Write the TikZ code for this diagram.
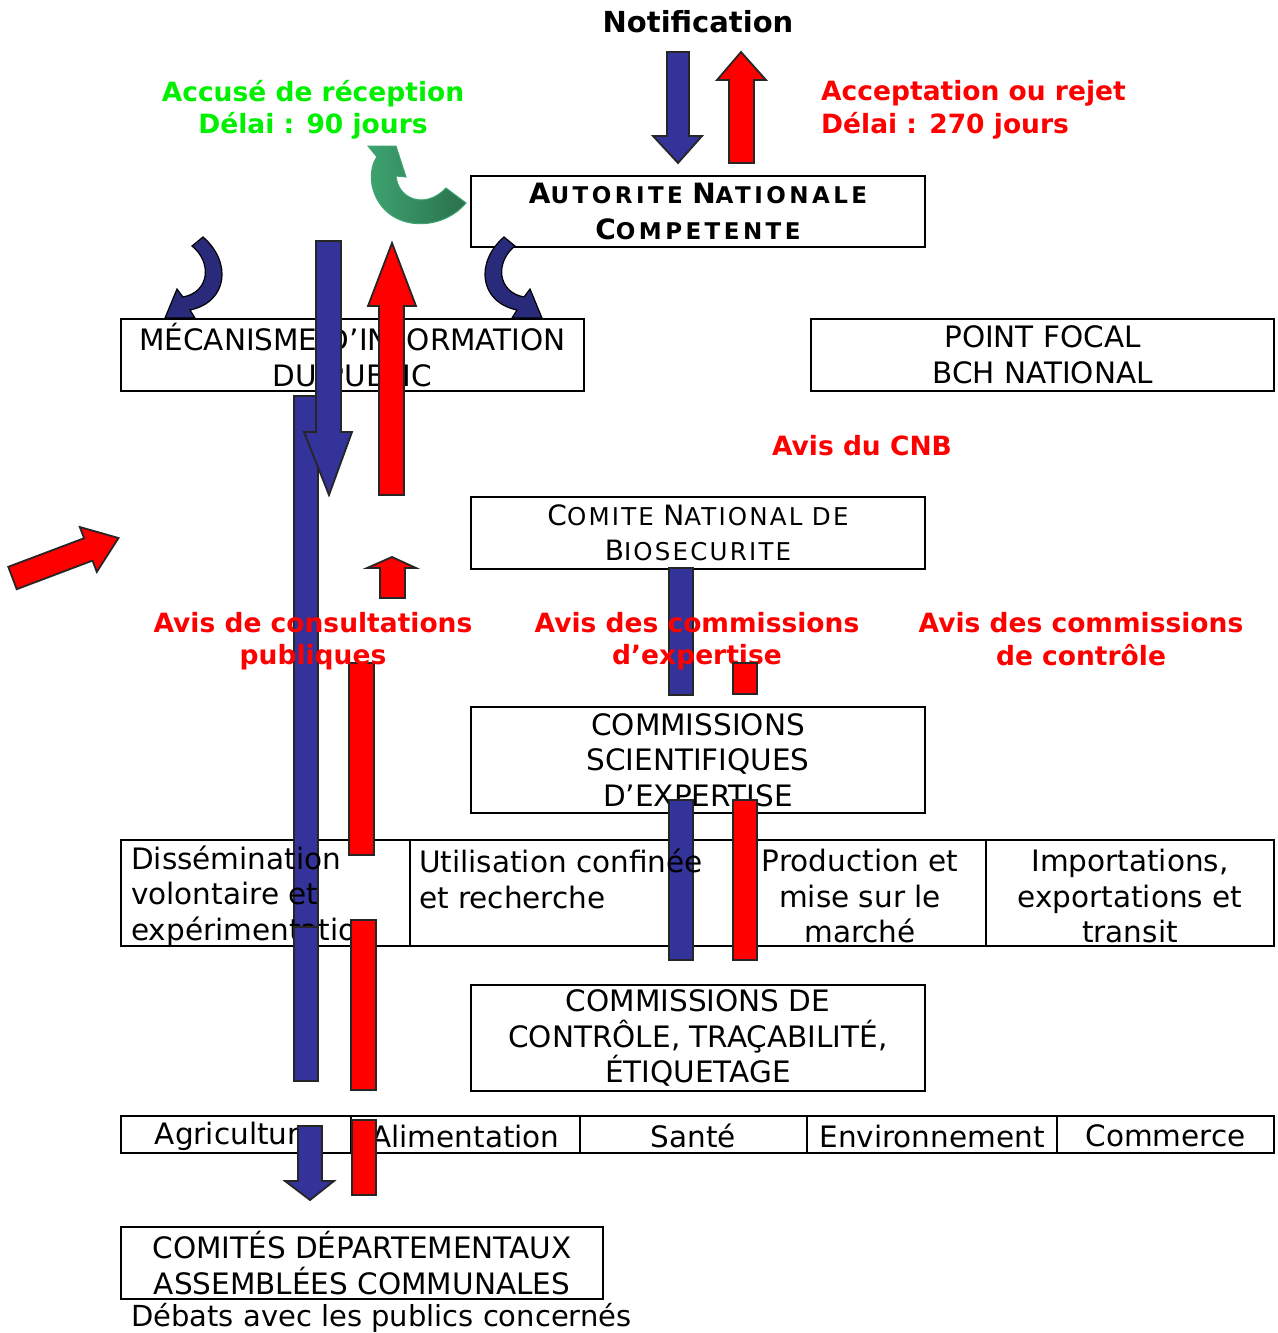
\documentclass[tikz,border=0pt]{standalone}
\usepackage{fontspec}
\setmainfont{DejaVu Sans}
\definecolor{barblue}{RGB}{51,51,153}
\definecolor{navyc}{RGB}{42,42,122}
\definecolor{brightgreen}{RGB}{0,240,0}
\definecolor{greenL}{RGB}{62,164,112}
\definecolor{greenD}{RGB}{42,112,76}
\definecolor{pureRed}{RGB}{255,0,0}
\newcommand\fsN{\fontsize{29.5}{35.5}\selectfont}
\newcommand\fsB{\fontsize{26.5}{32.5}\selectfont\bfseries}
\newcommand\scR[1]{{\fontsize{24.5}{35.5}\selectfont\addfontfeature{LetterSpace=9}#1}}
\newcommand\bigR[1]{{\fontsize{28}{35.5}\selectfont\addfontfeature{LetterSpace=9}#1}}
\newcommand\scB[1]{{\fontsize{23}{35.5}\selectfont\bfseries\addfontfeature{LetterSpace=15}#1}}
\newcommand\bigB[1]{{\fontsize{28}{35.5}\selectfont\bfseries\addfontfeature{LetterSpace=15}#1}}
\begin{document}
\begin{tikzpicture}[x=1pt,y=-1pt,
  box/.style={draw=black, line width=2.4pt, inner sep=0pt, align=center, font=\fsN},
  txt/.style={inner sep=0pt, font=\fsN},
  lbl/.style={inner sep=0pt, align=center, font=\fsB, text=pureRed},
  bar/.style={draw=black!85, line width=1.8pt},
  bluebar/.style={bar, fill=barblue},
  redbar/.style={bar, fill=pureRed},
  edge/.style={line width=2.4pt}]
\useasboundingbox (0,0) rectangle (1277,1333);
\fill[white] (0,0) rectangle (1277,1333);

% ---------- boxes ----------
\node[box, minimum width=454pt, minimum height=71pt] (anc) at (698,211.5)
  {\bigB{A}\scB{UTORITE} \bigB{N}\scB{ATIONALE}\\\bigB{C}\scB{OMPETENTE}};
\node[box, minimum width=463pt, minimum height=72pt] (mip) at (352.5,355)
  {MÉCANISME D’INFORMATION\\DU PUBLIC};
\node[box, minimum width=463pt, minimum height=72pt] (pf) at (1042.5,355)
  {POINT FOCAL\\BCH NATIONAL};
\node[box, minimum width=454pt, minimum height=72pt] (cnb) at (698,533)
  {\bigR{C}\scR{OMITE} \bigR{N}\scR{ATIONAL} \scR{DE}\\\bigR{B}\scR{IOSECURITE}};
\node[box, minimum width=454pt, minimum height=106pt] (cse) at (698,760)
  {COMMISSIONS\\SCIENTIFIQUES\\D’EXPERTISE};
\node[box, minimum width=454pt, minimum height=106pt] (cct) at (698,1038)
  {COMMISSIONS DE\\CONTRÔLE, TRAÇABILITÉ,\\ÉTIQUETAGE};
\node[box, minimum width=482pt, minimum height=72pt] (cdac) at (362,1263)
  {COMITÉS DÉPARTEMENTAUX\\ASSEMBLÉES COMMUNALES};
\node[txt, anchor=west, font=\fontsize{29}{35}\selectfont] (deb) at (131,1318) {Débats avec les publics concernés};

% domain row
\draw[edge] (121,840) rectangle (1274,946);
\draw[edge] (410,840) -- (410,946);
\draw[edge] (745,840) -- (745,946);
\draw[edge] (986,840) -- (986,946);

% sector row
\draw[edge] (121,1116) rectangle (1274,1153);
\foreach \xx in {351,580,807,1057} \draw[edge] (\xx,1116) -- (\xx,1153);
\node[txt] (agri) at (236,1136) {Agriculture};
\node[txt] (alim) at (465.5,1136) {Alimentation};
\node[txt] (sante) at (693.5,1136) {Santé};
\node[txt] (env) at (932,1136) {Environnement};
\node[txt] (comm) at (1165.5,1136) {Commerce};

% ---------- curved arrows ----------
\shade[left color=greenL, right color=greenD, draw=greenL, line width=1pt]
  (368,146) -- (396,146) -- (406,177) -- (396,176)
  .. controls (398,199) and (425,210) .. (446,188) -- (466,203)
  .. controls (440,234) and (382,232) .. (372,185)
  .. controls (370,172) and (373,162) .. (377,157) -- cycle;

\fill[navyc, draw=black, line width=1.2pt]
  (203,237) .. controls (232,262) and (228,302) .. (190,310)
  -- (195,318) -- (165,318) -- (177,289) -- (183,297)
  .. controls (210,292) and (212,262) .. (192,246) -- cycle;
\begin{scope}[xshift=707pt, xscale=-1]
\fill[navyc, draw=black, line width=1.2pt]
  (203,237) .. controls (232,262) and (228,302) .. (190,310)
  -- (195,318) -- (165,318) -- (177,289) -- (183,297)
  .. controls (210,292) and (212,262) .. (192,246) -- cycle;
\end{scope}

% ---------- block arrows ----------
\fill[bluebar] (667,52) -- (689,52) -- (689,136) -- (702,136) -- (678,163) -- (653,136) -- (667,136) -- cycle;
\fill[redbar] (729,163) -- (754,163) -- (754,80) -- (766,80) -- (741,52) -- (717,80) -- (729,80) -- cycle;

\fill[bluebar] (294,396) rectangle (318,970);
\fill[bluebar] (316,241) -- (341,241) -- (341,432) -- (352,432) -- (329,495) -- (304,432) -- (316,432) -- cycle;
\fill[redbar] (379,495) -- (404,495) -- (404,306) -- (416,306) -- (392,243) -- (368,306) -- (379,306) -- cycle;
\fill[redbar] (380,598) -- (405,598) -- (405,568) -- (416,568) -- (392,557) -- (367,568) -- (380,568) -- cycle;
\fill[redbar] (8.3,566.8) -- (84.1,538.2) -- (79.8,527.0) -- (118.5,538) -- (96.8,571.9) -- (92.5,560.6) -- (16.7,589.2) -- cycle;

\fill[bluebar] (669,568) rectangle (693,695);
\fill[bluebar] (669,800) rectangle (693,960);
\fill[redbar] (733,800) rectangle (757,960);
\fill[redbar] (349,663) rectangle (374,855);

% ---------- domain texts ----------
\node[txt, align=left, anchor=west] (diss) at (131,896) {Dissémination\\volontaire et\\expérimentation};
\node[txt, align=left, anchor=west] (util) at (419,879) {Utilisation confinée\\et recherche};
\node[txt, align=center] (prod) at (860,896) {Production et\\mise sur le\\marché};
\node[txt, align=center] (impo) at (1130,896) {Importations,\\exportations et\\transit};

\fill[bluebar] (294,927) rectangle (318,1081);
\fill[redbar] (351,920) rectangle (376,1090);
\fill[redbar] (352,1120) rectangle (376,1195);
\fill[bluebar] (298,1126) -- (322,1126) -- (322,1181) -- (334,1181) -- (310,1200) -- (285,1181) -- (298,1181) -- cycle;

% ---------- labels ----------
\node[inner sep=0pt, font=\fontsize{29}{34}\selectfont\bfseries] (notif) at (698,22) {Notification};
\node[lbl, text=brightgreen] (accuse) at (313,110) {Accusé de réception\\Délai : 90 jours};
\node[lbl, align=left, anchor=west] (accept) at (821,110) {Acceptation ou rejet\\Délai : 270 jours};
\node[lbl] (avcnb) at (862,446) {Avis du CNB};
\node[lbl] (avcons) at (313,641) {Avis de consultations\\publiques};
\node[lbl] (avexp) at (697,641) {Avis des commissions\\d’expertise};
\node[lbl] (avctl) at (1081,639) {Avis des commissions\\de contrôle};

\fill[redbar] (733,663) rectangle (757,694);
\end{tikzpicture}
\end{document}
